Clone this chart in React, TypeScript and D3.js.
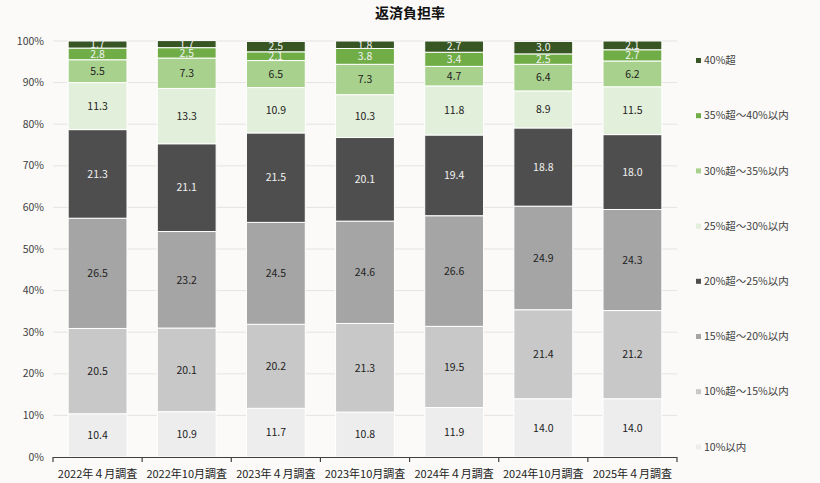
import React from 'react';
import {scaleBand, scaleLinear, stack} from 'd3';

const categories = ['2022年４月調査', '2022年10月調査', '2023年４月調査', '2023年10月調査', '2024年４月調査', '2024年10月調査', '2025年４月調査'];
const seriesNames = ['10%以内', '10%超～15%以内', '15%超～20%以内', '20%超～25%以内', '25%超～30%以内', '30%超～35%以内', '35%超～40%以内', '40%超'];
const colors = ['#ededed', '#c8c8c8', '#a5a5a5', '#4e4e4e', '#e2efda', '#a9d18e', '#70ad47', '#375623'];
const labelColors = ['#222', '#222', '#222', '#f2f2f2', '#222', '#222', '#f2f2f2', '#f2f2f2'];

const s10 = [10.4, 10.9, 11.7, 10.8, 11.9, 14.0, 14.0];
const s15 = [20.5, 20.1, 20.2, 21.3, 19.5, 21.4, 21.2];
const s20 = [26.5, 23.2, 24.5, 24.6, 26.6, 24.9, 24.3];
const s25 = [21.3, 21.1, 21.5, 20.1, 19.4, 18.8, 18.0];
const s30 = [11.3, 13.3, 10.9, 10.3, 11.8, 8.9, 11.5];
const s35 = [5.5, 7.3, 6.5, 7.3, 4.7, 6.4, 6.2];
const s40 = [2.8, 2.5, 2.1, 3.8, 3.4, 2.5, 2.7];
const sOver = [1.7, 1.7, 2.5, 1.8, 2.7, 3.0, 2.1];
const allSeries = [s10, s15, s20, s25, s30, s35, s40, sOver];

const yTicks = [0, 10, 20, 30, 40, 50, 60, 70, 80, 90, 100];

const W = 820, H = 483;
const font = '"Noto Sans CJK JP", "Noto Sans", sans-serif';

const App = (): JSX.Element => {
    const x = scaleBand<string>().domain(categories).range([53, 677]).paddingInner(0.34).paddingOuter(0.17);
    const y = scaleLinear().domain([0, 100]).range([457, 41]);

    const rows = categories.map((c, i) => {
        const r: any = {cat: c};
        seriesNames.forEach((s, k) => (r[s] = allSeries[k][i]));
        return r;
    });
    const layers = stack<any>().keys(seriesNames)(rows);
    const step = x.step();

    return (
        <svg width={W} height={H} viewBox={`0 0 ${W} ${H}`} style={{position: 'absolute', left: 0, top: 0}} fontFamily={font}>
            <rect width={W} height={H} fill="#fbfaf8" />
            <text x={410} y={18} textAnchor="middle" fontSize={14} fontWeight="bold" fill="#111">返済負担率</text>
            {yTicks.map(t => (
                <g key={t}>
                    {t > 0 && <line x1={53} x2={677} y1={y(t)} y2={y(t)} stroke="#e6e4e2" strokeWidth={1} />}
                    <text x={44} y={y(t)} dy="0.35em" textAnchor="end" fontSize={10.5} fill="#404040">{t}%</text>
                </g>
            ))}
            {layers.map((layer, k) => (
                <g key={seriesNames[k]}>
                    {layer.map((d, i) => {
                        const x0 = x(categories[i]) as number;
                        const top = y(d[1]);
                        const h = y(d[0]) - y(d[1]);
                        return (
                            <g key={i}>
                                <rect x={x0} y={top} width={x.bandwidth()} height={h} fill={colors[k]} stroke="#ffffff" strokeWidth={1} />
                                <text x={x0 + x.bandwidth() / 2} y={top + h / 2} dy="0.36em" textAnchor="middle" fontSize={10.5} fill={labelColors[k]}>
                                    {allSeries[k][i].toFixed(1)}
                                </text>
                            </g>
                        );
                    })}
                </g>
            ))}
            <line x1={53} x2={677} y1={457.5} y2={457.5} stroke="#404040" strokeWidth={1.2} />
            {categories.map((c, i) => {
                const b = 53 + step * i;
                return <line key={'t' + i} x1={b} x2={b} y1={457} y2={462} stroke="#404040" strokeWidth={1.2} />;
            })}
            <line x1={677} x2={677} y1={457} y2={462} stroke="#404040" strokeWidth={1.2} />
            {categories.map(c => (
                <text key={c} x={(x(c) as number) + x.bandwidth() / 2} y={474} dy="0.35em" textAnchor="middle" fontSize={11} fill="#222">{c}</text>
            ))}
            {seriesNames.slice().reverse().map((s, j) => {
                const k = seriesNames.length - 1 - j;
                const ly = 60.5 + j * 55.2;
                return (
                    <g key={s}>
                        <rect x={696} y={ly - 2.5} width={5} height={5} fill={colors[k]} />
                        <text x={704} y={ly} dy="0.35em" fontSize={10.5} fill="#404040">{s}</text>
                    </g>
                );
            })}
        </svg>
    );
};

export default App;
